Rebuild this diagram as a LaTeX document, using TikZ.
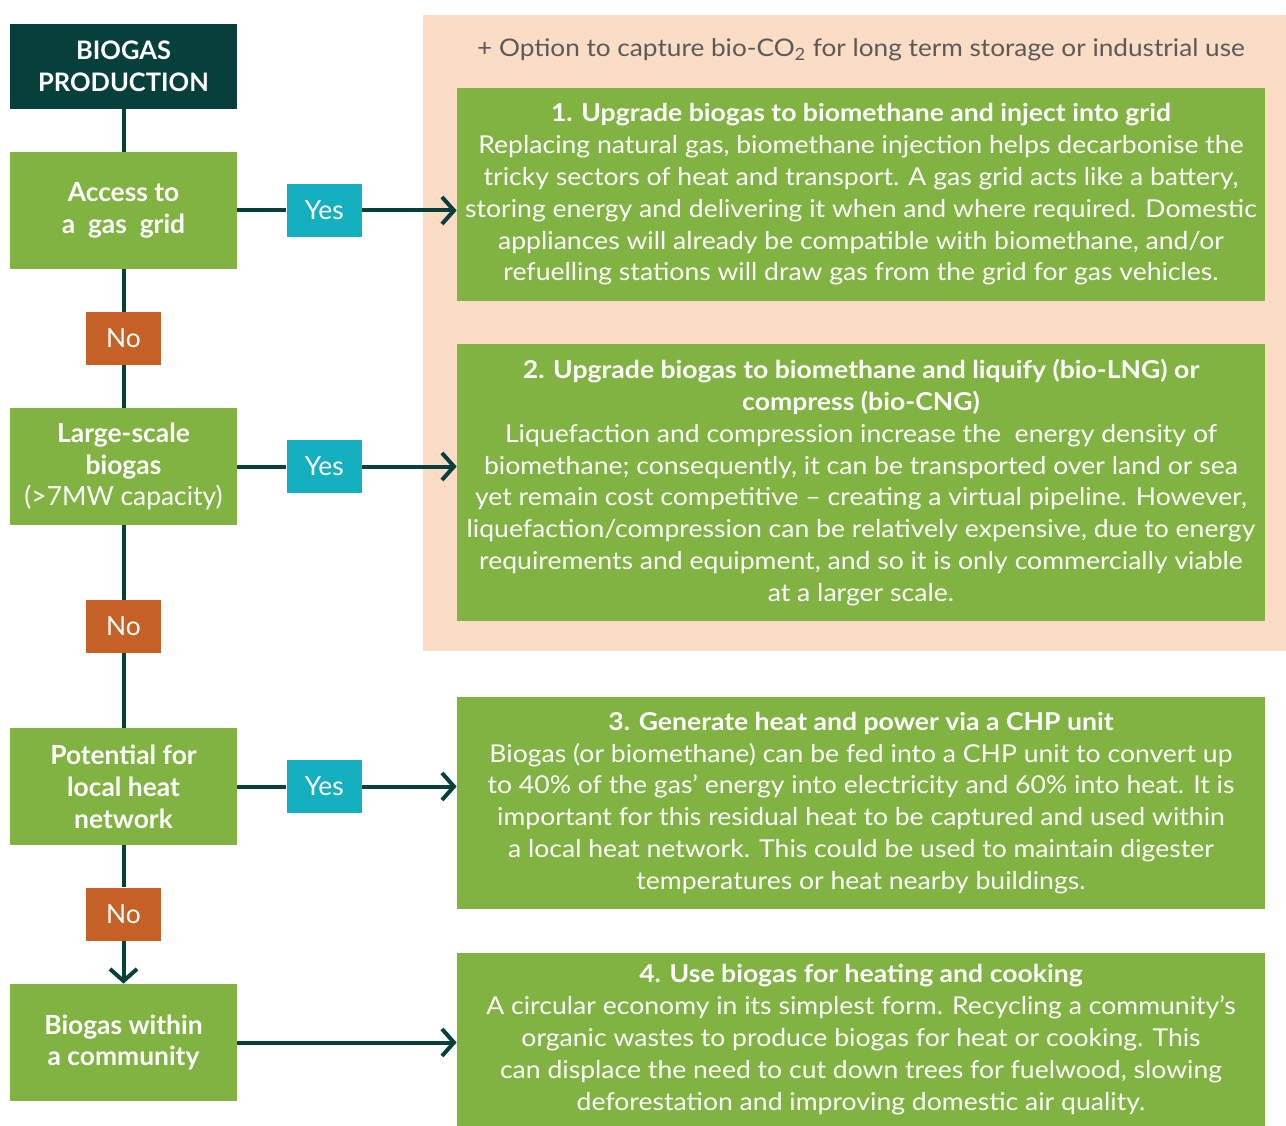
\documentclass[tikz,border=0pt]{standalone}
\usepackage{fontspec}
\setmainfont{Lato}
\newfontfamily\widelato[FakeStretch=1.08]{Lato}
\usetikzlibrary{arrows.meta,positioning}
\definecolor{bgdark}{HTML}{073F3B}
\definecolor{bggreen}{HTML}{80B342}
\definecolor{bgcyan}{HTML}{14B0C0}
\definecolor{bgrust}{HTML}{C56127}
\definecolor{bgpeach}{HTML}{FBDCC4}
\definecolor{bggrey}{HTML}{5A5A5A}
\tikzset{
  bx/.style={rectangle, align=center, inner sep=0pt, text=white},
  head/.style={bx, fill=bgdark, minimum width=45.4mm, minimum height=17mm, font=\fontsize{14.5}{18.1}\selectfont\bfseries},
  quest/.style={bx, fill=bggreen, minimum width=45.4mm, minimum height=23.4mm, font=\fontsize{15}{18.1}\selectfont\bfseries},
  opt/.style={bx, fill=bggreen, minimum width=161.6mm, font=\widelato\fontsize{14}{18.1}\selectfont},
  yesbox/.style={bx, fill=bgcyan, minimum width=15mm, minimum height=10.6mm, font=\fontsize{15}{17}\selectfont},
  nobox/.style={bx, fill=bgrust, minimum width=15mm, minimum height=10.6mm, font=\fontsize{15}{17}\selectfont},
  link/.style={draw=bgdark, line width=0.8mm},
  arr/.style={link, -{Straight Barb[length=2.4mm, width=5.4mm]}},
}

\begin{document}
\begin{tikzpicture}[x=0.2mm, y=-0.2mm]
  \useasboundingbox (0,0) rectangle (1286,1126);
  % options panel for routes 1 and 2
  \node[fill=bgpeach, minimum width=172.6mm, minimum height=127.2mm, inner sep=0pt] (panel) at (854.5,333) {};
  \node[text=bggrey, font=\widelato\fontsize{13.8}{16}\selectfont] (co2) at (861,50) {+ Option to capture bio-CO\textsubscript{2} for long term storage or industrial use};
  % decision column
  \node[head] (prod) at (123.5,66.5) {BIOGAS\\PRODUCTION};
  \node[quest] (qgrid) at (123.5,210.5) {Access to\\a\ \ gas\ \ grid};
  \node[quest] (qlarge) at (123.5,466.5) {Large-scale\\biogas\\{\mdseries(>7MW capacity)}};
  \node[quest] (qheat) at (123.5,786.5) {Potential for\\local heat\\network};
  \node[quest] (qcomm) at (123.5,1042.5) {Biogas within\\a community};
  \node[nobox] (no1) at (123.5,338.5) {No};
  \node[nobox] (no2) at (123.5,626.5) {No};
  \node[nobox] (no3) at (123.5,914) {No};
  % routes
  \node[opt, minimum height=42.6mm] (opt1) at (861,194.5) {\textbf{1. Upgrade biogas to biomethane and inject into grid}\\
    Replacing natural gas, biomethane injection helps decarbonise the\\
    tricky sectors of heat and transport. A gas grid acts like a battery,\\
    storing energy and delivering it when and where required. Domestic\\
    appliances will already be compatible with biomethane, and/or\\
    refuelling stations will draw gas from the grid for gas vehicles.};
  \node[opt, minimum height=55.4mm] (opt2) at (861,482.5) {\textbf{2. Upgrade biogas to biomethane and liquify (bio-LNG) or}\\
    \textbf{compress (bio-CNG)}\\
    Liquefaction and compression increase the\ \ energy density of\\
    biomethane; consequently, it can be transported over land or sea\\
    yet remain cost competitive – creating a virtual pipeline. However,\\
    liquefaction/compression can be relatively expensive, due to energy\\
    requirements and equipment, and so it is only commercially viable\\
    at a larger scale.};
  \node[opt, minimum height=42.4mm] (opt3) at (861,803) {\textbf{3. Generate heat and power via a CHP unit}\\
    Biogas (or biomethane) can be fed into a CHP unit to convert up\\
    to 40\% of the gas’ energy into electricity and 60\% into heat. It is\\
    important for this residual heat to be captured and used within\\
    a local heat network. This could be used to maintain digester\\
    temperatures or heat nearby buildings.};
  \node[opt, minimum height=34.6mm] (opt4) at (861,1039.5) {\textbf{4. Use biogas for heating and cooking}\\
    A circular economy in its simplest form. Recycling a community’s\\
    organic wastes to produce biogas for heat or cooking. This\\
    can displace the need to cut down trees for fuelwood, slowing\\
    deforestation and improving domestic air quality.};
  % trunk
  \draw[link] (prod) -- (qgrid);
  \draw[link] (qgrid) -- (no1);
  \draw[link] (no1) -- (qlarge);
  \draw[link] (qlarge) -- (no2);
  \draw[link] (no2) -- (qheat);
  \draw[link] (qheat) -- (no3);
  \draw[arr] (no3) -- (qcomm);
  % yes branches
  \foreach \nm/\q/\o in {yes1/qgrid/opt1, yes2/qlarge/opt2, yes3/qheat/opt3}
  {
    \node[yesbox, right=9.8mm of \q] (\nm) {Yes};
    \draw[link] (\q) -- (\nm);
    \draw[arr] (\nm.east) -- (\nm.east -| \o.west);
  }
  \draw[arr] (qcomm.east) -- (qcomm.east -| opt4.west);
\end{tikzpicture}
\end{document}
